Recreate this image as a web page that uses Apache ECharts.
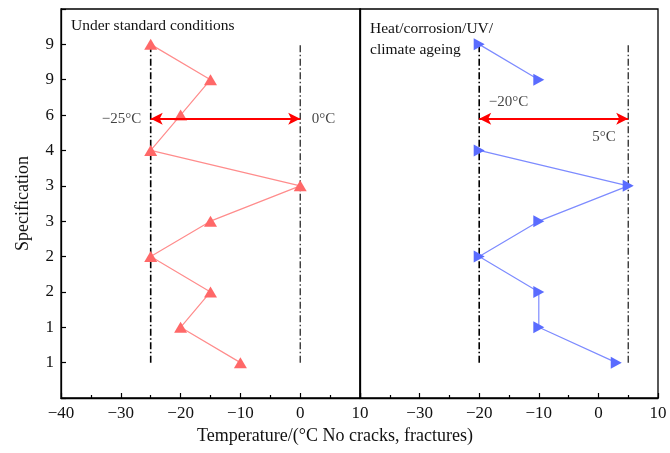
<!DOCTYPE html>
<html>
<head>
<meta charset="utf-8">
<script src="https://cdn.jsdelivr.net/npm/echarts@6/dist/echarts.min.js"></script>
<style>
html,body{margin:0;padding:0;background:#fff;}
#chart{width:670px;height:453px;}
</style>
</head>
<body>
<div id="chart"></div>
<script>
// Category labels for specification levels 1..10 (bottom to top)
const yLabels = ['1', '1', '2', '2', '3', '3', '4', '6', '9', '9'];
// Temperatures per level (bottom to top)
const standardTemps = [-10, -20, -15, -25, -15, 0, -25, -20, -15, -25];
const ageingTemps = [3, -10, -10, -20, -10, 5, -20, null, -10, -20];
// Limit lines and arrow ranges
const standardLimits = [-25, 0];
const ageingLimits = [-20, 5];
const arrowLevel = 7.9;
const xMin = -40, xMax = 10, xStep = 10;
const yMin = 0, yMax = 11;
const panelTitles = ['Under standard conditions', 'Heat/corrosion/UV/\nclimate ageing'];
const xTitle = 'Temperature/(°C No cracks, fractures)';
const yTitle = 'Specification';

const FONT = 'Liberation Serif';
const fmtNum = v => String(v).replace('-', '\u2212');

function pts(arr) {
  return arr.map((v, i) => [v === null ? '-' : v, i + 1]);
}
function limitLine(x, xi, width) {
  return {
    type: 'line', xAxisIndex: xi, yAxisIndex: xi, silent: true,
    symbol: 'none', data: [[x, 1], [x, yLabels.length]],
    lineStyle: { color: '#000', width: width, type: [7, 2.5, 1.5, 2.5] },
    z: 1
  };
}
function labelPoint(xi, x, text, pos, dist, off) {
  return {
    type: 'scatter', xAxisIndex: xi, yAxisIndex: xi, silent: true,
    symbolSize: 1, itemStyle: { color: 'transparent' },
    data: [[x, arrowLevel]],
    label: { show: true, formatter: text, position: pos, distance: dist, offset: off,
      fontFamily: FONT, fontSize: 15, color: '#111' },
    z: 5
  };
}
function arrow(xi, lims) {
  return {
    type: 'line', xAxisIndex: xi, yAxisIndex: xi, silent: true, data: [],
    markLine: {
      silent: true, symbol: ['arrow', 'arrow'], symbolSize: [9, 12],
      label: { show: false },
      lineStyle: { color: '#ff0000', width: 2, type: 'solid' },
      data: [[{ coord: [lims[0], arrowLevel] }, { coord: [lims[1], arrowLevel] }]]
    },
    z: 4
  };
}

const xAxisCommon = {
  type: 'value', min: xMin, max: xMax, interval: xStep,
  axisLine: { show: true, onZero: false, lineStyle: { color: '#000', width: 1.3 } },
  axisTick: { show: true, inside: true, length: 5, lineStyle: { color: '#000', width: 1.2 } },
  minorTick: { show: true, splitNumber: 2, length: 3, lineStyle: { color: '#000', width: 1.2 } },
  splitLine: { show: false },
  axisLabel: { fontFamily: FONT, fontSize: 17, color: '#111', margin: 7 }
};

const chart = echarts.init(document.getElementById('chart'), null, { renderer: 'canvas' });
chart.setOption({
  animation: false,
  backgroundColor: '#fff',
  title: [
    { text: panelTitles[0], left: 66, top: 13, textStyle: { fontFamily: FONT, fontSize: 15.5, fontWeight: 'normal', color: '#111' } },
    { text: panelTitles[1], left: 365, top: 13, textStyle: { fontFamily: FONT, fontSize: 15.5, fontWeight: 'normal', color: '#111', lineHeight: 21 } }
  ],
  graphic: [{
    type: 'text', left: 'center', top: 427,
    style: { text: xTitle, fontFamily: FONT, fontSize: 18, fill: '#111' },
    x: 25
  }],
  grid: [
    { left: 61, right: 310, top: 9, bottom: 55, show: true, borderColor: '#000', borderWidth: 1.3 },
    { left: 360, right: 12, top: 9, bottom: 55, show: true, borderColor: '#000', borderWidth: 1.3 }
  ],
  xAxis: [
    Object.assign({}, xAxisCommon, { gridIndex: 0, axisLabel: Object.assign({}, xAxisCommon.axisLabel, { formatter: v => fmtNum(v) }) }),
    Object.assign({}, xAxisCommon, { gridIndex: 1, axisLabel: Object.assign({}, xAxisCommon.axisLabel, { formatter: v => v === xMin ? '' : fmtNum(v) }) })
  ],
  yAxis: [
    {
      type: 'value', gridIndex: 0, min: yMin, max: yMax, interval: 1,
      name: yTitle, nameLocation: 'middle', nameGap: 29,
      nameTextStyle: { fontFamily: FONT, fontSize: 18, color: '#111' },
      axisLine: { show: true, onZero: false, lineStyle: { color: '#000', width: 1.3 } },
      axisTick: { show: true, inside: true, length: 5, lineStyle: { color: '#000', width: 1.2 } },
      splitLine: { show: false },
      axisLabel: { fontFamily: FONT, fontSize: 17, color: '#111', margin: 7,
        formatter: v => (v >= 1 && v <= yLabels.length) ? yLabels[v - 1] : '' }
    },
    {
      type: 'value', gridIndex: 1, min: yMin, max: yMax, interval: 1,
      axisLine: { show: true, onZero: false, lineStyle: { color: '#000', width: 1.3 } },
      axisTick: { show: false }, splitLine: { show: false }, axisLabel: { show: false }
    }
  ],
  series: [
    limitLine(standardLimits[0], 0, 1.6),
    limitLine(standardLimits[1], 0, 1.1),
    limitLine(ageingLimits[0], 1, 1.6),
    limitLine(ageingLimits[1], 1, 1.1),
    {
      type: 'line', xAxisIndex: 0, yAxisIndex: 0, data: pts(standardTemps),
      symbol: 'triangle', symbolSize: [13, 11],
      itemStyle: { color: '#ff6868' },
      lineStyle: { color: '#ff8c8c', width: 1.2 },
      z: 3
    },
    {
      type: 'line', xAxisIndex: 1, yAxisIndex: 1, data: pts(ageingTemps),
      symbol: 'triangle', symbolRotate: -90, symbolSize: [12, 11], connectNulls: false,
      itemStyle: { color: '#5a6cff' },
      lineStyle: { color: '#7d8bff', width: 1.2 },
      z: 3
    },
    arrow(0, standardLimits),
    arrow(1, ageingLimits),
    labelPoint(0, standardLimits[0], fmtNum(standardLimits[0]) + '°C', 'left', 9, [0, 0]),
    labelPoint(0, standardLimits[1], fmtNum(standardLimits[1]) + '°C', 'right', 11, [0, 0]),
    labelPoint(1, ageingLimits[0], fmtNum(ageingLimits[0]) + '°C', 'right', 9, [0, -17]),
    labelPoint(1, ageingLimits[1], fmtNum(ageingLimits[1]) + '°C', 'left', 12, [0, 18])
  ]
});
</script>
</body>
</html>
